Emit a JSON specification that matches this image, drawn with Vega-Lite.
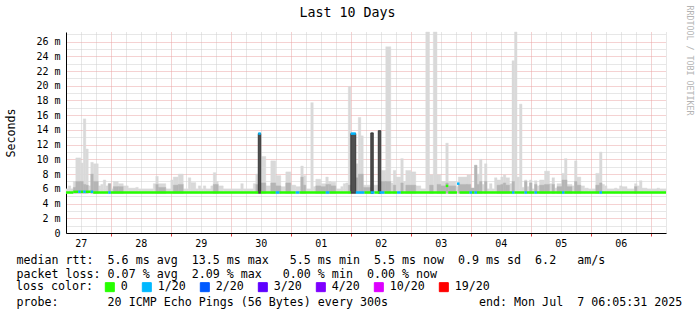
{
"$schema": "https://vega.github.io/schema/vega-lite/v6.json",
"width": 600,
"height": 201,
"autosize": {"type": "none"},
"padding": {"left": 66, "top": 32, "right": 31, "bottom": 82},
"background": "#ffffff",
"config": {"view": {"stroke": null}},
"title": {"text": "Last 10 Days", "font": "DejaVu Sans Mono", "fontSize": 13.3, "fontWeight": "normal", "color": "#000000", "anchor": "middle", "frame": "group", "dx": -18.5, "dy": 20, "offset": 6},
"datasets": {
"smoke": [
{"a":"2025-06-27T06:05:31","b":"2025-06-27T07:00","lo":5.4,"hi":6.0},
{"a":"2025-06-27T07:00","b":"2025-06-27T08:00","lo":5.4,"hi":6.4},
{"a":"2025-06-27T08:00","b":"2025-06-27T09:00","lo":5.4,"hi":6.0},
{"a":"2025-06-27T09:00","b":"2025-06-27T10:00","lo":5.4,"hi":7.0,"q":6.2},
{"a":"2025-06-27T10:00","b":"2025-06-27T12:00","lo":5.4,"hi":10.2,"q":7.0},
{"a":"2025-06-27T12:00","b":"2025-06-27T13:00","lo":5.4,"hi":9.5,"q":7.0},
{"a":"2025-06-27T13:00","b":"2025-06-27T14:00","lo":5.4,"hi":15.5,"q":6.6},
{"a":"2025-06-27T14:00","b":"2025-06-27T15:00","lo":5.4,"hi":11.4,"q":6.5},
{"a":"2025-06-27T15:00","b":"2025-06-27T16:00","lo":5.4,"hi":6.4},
{"a":"2025-06-27T16:00","b":"2025-06-27T17:00","lo":5.4,"hi":9.6,"q":8.0},
{"a":"2025-06-27T17:00","b":"2025-06-27T19:00","lo":5.4,"hi":9.4,"q":7.0},
{"a":"2025-06-27T19:00","b":"2025-06-27T20:00","lo":5.4,"hi":6.4},
{"a":"2025-06-27T20:00","b":"2025-06-27T21:00","lo":5.4,"hi":6.6},
{"a":"2025-06-27T21:00","b":"2025-06-27T22:00","lo":5.4,"hi":7.2},
{"a":"2025-06-27T22:00","b":"2025-06-27T23:00","lo":5.4,"hi":6.4},
{"a":"2025-06-27T23:00","b":"2025-06-28T00:00","lo":5.4,"hi":6.7,"q":6.7},
{"a":"2025-06-28T00:00","b":"2025-06-28T01:00","lo":5.4,"hi":6.0},
{"a":"2025-06-28T01:00","b":"2025-06-28T03:00","lo":5.4,"hi":7.0,"q":6.3},
{"a":"2025-06-28T03:00","b":"2025-06-28T05:00","lo":5.4,"hi":6.7,"q":6.3},
{"a":"2025-06-28T05:00","b":"2025-06-28T07:00","lo":5.4,"hi":6.4},
{"a":"2025-06-28T07:00","b":"2025-06-28T10:00","lo":5.4,"hi":6.1},
{"a":"2025-06-28T10:00","b":"2025-06-28T11:00","lo":5.4,"hi":6.2},
{"a":"2025-06-28T11:00","b":"2025-06-28T17:00","lo":5.4,"hi":6.0},
{"a":"2025-06-28T17:00","b":"2025-06-28T18:00","lo":5.4,"hi":6.7},
{"a":"2025-06-28T18:00","b":"2025-06-28T19:00","lo":5.4,"hi":7.7,"q":6.6},
{"a":"2025-06-28T19:00","b":"2025-06-28T22:00","lo":5.4,"hi":6.7,"q":6.2},
{"a":"2025-06-28T22:00","b":"2025-06-29T00:00","lo":5.4,"hi":6.0},
{"a":"2025-06-29T00:00","b":"2025-06-29T01:00","lo":5.4,"hi":7.2},
{"a":"2025-06-29T01:00","b":"2025-06-29T03:00","lo":5.4,"hi":7.6,"q":6.5},
{"a":"2025-06-29T03:00","b":"2025-06-29T05:00","lo":5.4,"hi":8.0,"q":6.6},
{"a":"2025-06-29T05:00","b":"2025-06-29T07:00","lo":5.4,"hi":6.0},
{"a":"2025-06-29T07:00","b":"2025-06-29T08:00","lo":5.4,"hi":7.5},
{"a":"2025-06-29T08:00","b":"2025-06-29T10:00","lo":5.4,"hi":6.85},
{"a":"2025-06-29T10:00","b":"2025-06-29T11:00","lo":5.4,"hi":6.0},
{"a":"2025-06-29T11:00","b":"2025-06-29T12:00","lo":5.4,"hi":6.4},
{"a":"2025-06-29T12:00","b":"2025-06-29T13:00","lo":5.4,"hi":6.0},
{"a":"2025-06-29T13:00","b":"2025-06-29T14:00","lo":5.4,"hi":6.4},
{"a":"2025-06-29T14:00","b":"2025-06-29T16:00","lo":5.4,"hi":6.0},
{"a":"2025-06-29T16:00","b":"2025-06-29T17:00","lo":5.4,"hi":6.4},
{"a":"2025-06-29T17:00","b":"2025-06-29T18:00","lo":5.4,"hi":8.2,"q":6.6},
{"a":"2025-06-29T18:00","b":"2025-06-29T19:00","lo":5.4,"hi":7.0,"q":6.6},
{"a":"2025-06-29T19:00","b":"2025-06-29T21:00","lo":5.4,"hi":6.4},
{"a":"2025-06-29T21:00","b":"2025-06-30T04:00","lo":5.4,"hi":6.0},
{"a":"2025-06-30T04:00","b":"2025-06-30T05:00","lo":5.4,"hi":6.7},
{"a":"2025-06-30T05:00","b":"2025-06-30T09:00","lo":5.4,"hi":6.0},
{"a":"2025-06-30T09:00","b":"2025-06-30T10:00","lo":5.4,"hi":6.7},
{"a":"2025-06-30T10:00","b":"2025-06-30T11:00","lo":5.4,"hi":8.0,"q":6.6},
{"a":"2025-06-30T11:00","b":"2025-06-30T12:00","lo":5.4,"hi":13.6,"d":13.5},
{"a":"2025-06-30T12:00","b":"2025-06-30T14:00","lo":5.4,"hi":10.4,"q":6.8},
{"a":"2025-06-30T14:00","b":"2025-06-30T16:00","lo":5.4,"hi":6.4},
{"a":"2025-06-30T16:00","b":"2025-06-30T18:00","lo":5.4,"hi":9.8,"q":6.8},
{"a":"2025-06-30T18:00","b":"2025-06-30T20:00","lo":5.4,"hi":7.8,"q":6.4},
{"a":"2025-06-30T20:00","b":"2025-06-30T22:00","lo":5.4,"hi":6.3},
{"a":"2025-06-30T22:00","b":"2025-07-01T00:00","lo":5.4,"hi":8.3,"q":6.8},
{"a":"2025-07-01T00:00","b":"2025-07-01T02:00","lo":5.4,"hi":6.5},
{"a":"2025-07-01T02:00","b":"2025-07-01T04:00","lo":5.4,"hi":6.3},
{"a":"2025-07-01T04:00","b":"2025-07-01T05:00","lo":5.4,"hi":9.1,"q":7.6},
{"a":"2025-07-01T05:00","b":"2025-07-01T06:00","lo":5.4,"hi":7.8,"q":6.5},
{"a":"2025-07-01T06:00","b":"2025-07-01T08:00","lo":5.4,"hi":6.0},
{"a":"2025-07-01T08:00","b":"2025-07-01T09:00","lo":5.4,"hi":17.7},
{"a":"2025-07-01T09:00","b":"2025-07-01T10:00","lo":5.4,"hi":6.3},
{"a":"2025-07-01T10:00","b":"2025-07-01T12:00","lo":5.4,"hi":7.3,"q":6.4},
{"a":"2025-07-01T12:00","b":"2025-07-01T14:00","lo":5.4,"hi":6.7,"q":6.3},
{"a":"2025-07-01T14:00","b":"2025-07-01T15:00","lo":5.4,"hi":7.6,"q":6.6},
{"a":"2025-07-01T15:00","b":"2025-07-01T16:00","lo":5.4,"hi":7.0,"q":6.6},
{"a":"2025-07-01T16:00","b":"2025-07-01T18:00","lo":5.4,"hi":6.9,"q":6.4},
{"a":"2025-07-01T18:00","b":"2025-07-01T20:00","lo":5.4,"hi":6.0},
{"a":"2025-07-01T20:00","b":"2025-07-01T21:00","lo":5.4,"hi":6.3},
{"a":"2025-07-01T21:00","b":"2025-07-01T22:00","lo":5.4,"hi":6.7},
{"a":"2025-07-01T22:00","b":"2025-07-01T23:00","lo":5.4,"hi":6.8},
{"a":"2025-07-01T23:00","b":"2025-07-02T00:00","lo":5.4,"hi":19.9,"q":6.5},
{"a":"2025-07-02T00:00","b":"2025-07-02T02:00","lo":5.4,"hi":13.6,"d":13.5},
{"a":"2025-07-02T02:00","b":"2025-07-02T03:00","lo":5.4,"hi":9.4,"q":7.5},
{"a":"2025-07-02T03:00","b":"2025-07-02T04:00","lo":5.4,"hi":15.7,"q":8.0},
{"a":"2025-07-02T04:00","b":"2025-07-02T05:00","lo":5.4,"hi":13.2,"q":8.0},
{"a":"2025-07-02T05:00","b":"2025-07-02T08:00","lo":5.4,"hi":6.5,"q":6.2},
{"a":"2025-07-02T08:00","b":"2025-07-02T09:00","lo":5.4,"hi":13.6,"d":13.6},
{"a":"2025-07-02T09:00","b":"2025-07-02T11:00","lo":5.4,"hi":6.5},
{"a":"2025-07-02T11:00","b":"2025-07-02T12:00","lo":5.4,"hi":13.9,"d":13.9},
{"a":"2025-07-02T12:00","b":"2025-07-02T14:00","lo":5.4,"hi":8.5,"q":7.0},
{"a":"2025-07-02T14:00","b":"2025-07-02T16:00","lo":5.4,"hi":25.3,"q":7.0},
{"a":"2025-07-02T16:00","b":"2025-07-02T17:00","lo":5.4,"hi":6.8},
{"a":"2025-07-02T17:00","b":"2025-07-02T18:00","lo":5.4,"hi":8.5,"q":6.5},
{"a":"2025-07-02T18:00","b":"2025-07-02T20:00","lo":5.4,"hi":7.6},
{"a":"2025-07-02T20:00","b":"2025-07-02T21:00","lo":5.4,"hi":10.1,"q":6.8},
{"a":"2025-07-02T21:00","b":"2025-07-02T22:00","lo":5.4,"hi":7.0},
{"a":"2025-07-02T22:00","b":"2025-07-03T00:00","lo":5.4,"hi":8.5,"q":6.5},
{"a":"2025-07-03T00:00","b":"2025-07-03T02:00","lo":5.4,"hi":8.3,"q":6.5},
{"a":"2025-07-03T02:00","b":"2025-07-03T04:00","lo":5.4,"hi":6.4},
{"a":"2025-07-03T04:00","b":"2025-07-03T06:00","lo":5.4,"hi":6.0},
{"a":"2025-07-03T06:00","b":"2025-07-03T07:30","lo":5.4,"hi":27.3},
{"a":"2025-07-03T07:30","b":"2025-07-03T09:00","lo":5.4,"hi":7.9,"q":6.5},
{"a":"2025-07-03T09:00","b":"2025-07-03T10:30","lo":5.4,"hi":27.3},
{"a":"2025-07-03T10:30","b":"2025-07-03T12:00","lo":5.4,"hi":7.9,"q":6.6},
{"a":"2025-07-03T12:00","b":"2025-07-03T14:00","lo":5.4,"hi":7.0,"q":6.4},
{"a":"2025-07-03T14:00","b":"2025-07-03T15:00","lo":5.4,"hi":12.2,"q":6.8},
{"a":"2025-07-03T15:00","b":"2025-07-03T18:00","lo":5.4,"hi":7.0,"q":6.4},
{"a":"2025-07-03T18:00","b":"2025-07-03T19:00","lo":5.4,"hi":6.3},
{"a":"2025-07-03T19:00","b":"2025-07-03T22:30","lo":5.4,"hi":7.6,"q":6.6},
{"a":"2025-07-03T22:30","b":"2025-07-04T00:00","lo":5.4,"hi":7.9,"q":6.6},
{"a":"2025-07-04T00:00","b":"2025-07-04T01:30","lo":5.4,"hi":6.1,"q":6.1},
{"a":"2025-07-04T01:30","b":"2025-07-04T02:30","lo":5.4,"hi":9.2,"q":9.2},
{"a":"2025-07-04T02:30","b":"2025-07-04T03:30","lo":5.4,"hi":8.0,"q":6.6},
{"a":"2025-07-04T03:30","b":"2025-07-04T04:30","lo":5.4,"hi":10.0,"q":7.0},
{"a":"2025-07-04T04:30","b":"2025-07-04T05:30","lo":5.4,"hi":6.6},
{"a":"2025-07-04T05:30","b":"2025-07-04T06:30","lo":5.4,"hi":9.4,"q":7.0},
{"a":"2025-07-04T06:30","b":"2025-07-04T07:30","lo":5.4,"hi":6.0},
{"a":"2025-07-04T07:30","b":"2025-07-04T08:30","lo":5.4,"hi":6.7},
{"a":"2025-07-04T08:30","b":"2025-07-04T09:30","lo":5.4,"hi":6.0},
{"a":"2025-07-04T09:30","b":"2025-07-04T10:30","lo":5.4,"hi":7.5},
{"a":"2025-07-04T10:30","b":"2025-07-04T12:00","lo":5.4,"hi":7.2,"q":6.5},
{"a":"2025-07-04T12:00","b":"2025-07-04T13:00","lo":5.4,"hi":7.6,"q":6.6},
{"a":"2025-07-04T13:00","b":"2025-07-04T14:00","lo":5.4,"hi":7.9,"q":6.8},
{"a":"2025-07-04T14:00","b":"2025-07-04T15:30","lo":5.4,"hi":7.5,"q":6.5},
{"a":"2025-07-04T15:30","b":"2025-07-04T16:30","lo":5.4,"hi":6.7},
{"a":"2025-07-04T16:30","b":"2025-07-04T17:30","lo":5.4,"hi":23.4,"q":7.0},
{"a":"2025-07-04T17:30","b":"2025-07-04T18:30","lo":5.4,"hi":27.3},
{"a":"2025-07-04T18:30","b":"2025-07-04T19:30","lo":5.4,"hi":7.6},
{"a":"2025-07-04T19:30","b":"2025-07-04T20:30","lo":5.4,"hi":17.5},
{"a":"2025-07-04T20:30","b":"2025-07-04T21:30","lo":5.4,"hi":6.2},
{"a":"2025-07-04T21:30","b":"2025-07-04T22:30","lo":5.4,"hi":7.2,"q":7.0},
{"a":"2025-07-04T22:30","b":"2025-07-04T23:30","lo":5.4,"hi":6.3},
{"a":"2025-07-04T23:30","b":"2025-07-05T00:30","lo":5.4,"hi":7.2,"q":6.8},
{"a":"2025-07-05T00:30","b":"2025-07-05T01:30","lo":5.4,"hi":6.0},
{"a":"2025-07-05T01:30","b":"2025-07-05T02:30","lo":5.4,"hi":7.1,"q":6.6},
{"a":"2025-07-05T02:30","b":"2025-07-05T03:30","lo":5.4,"hi":6.4},
{"a":"2025-07-05T03:30","b":"2025-07-05T05:30","lo":5.4,"hi":7.2,"q":6.5},
{"a":"2025-07-05T05:30","b":"2025-07-05T07:30","lo":5.4,"hi":8.4,"q":6.6},
{"a":"2025-07-05T07:30","b":"2025-07-05T08:30","lo":5.4,"hi":6.7},
{"a":"2025-07-05T08:30","b":"2025-07-05T09:30","lo":5.4,"hi":7.5,"q":6.6},
{"a":"2025-07-05T09:30","b":"2025-07-05T10:30","lo":5.4,"hi":6.1},
{"a":"2025-07-05T10:30","b":"2025-07-05T12:30","lo":5.4,"hi":6.7,"q":6.3},
{"a":"2025-07-05T12:30","b":"2025-07-05T13:30","lo":5.4,"hi":8.1,"q":7.2},
{"a":"2025-07-05T13:30","b":"2025-07-05T14:30","lo":5.4,"hi":10.1,"q":7.2},
{"a":"2025-07-05T14:30","b":"2025-07-05T16:30","lo":5.4,"hi":6.6,"q":6.3},
{"a":"2025-07-05T16:30","b":"2025-07-05T17:30","lo":5.4,"hi":6.4},
{"a":"2025-07-05T17:30","b":"2025-07-05T18:30","lo":5.4,"hi":9.8,"q":7.0},
{"a":"2025-07-05T18:30","b":"2025-07-05T20:00","lo":5.4,"hi":7.6,"q":6.5},
{"a":"2025-07-05T20:00","b":"2025-07-05T21:30","lo":5.4,"hi":6.4},
{"a":"2025-07-05T21:30","b":"2025-07-05T23:00","lo":5.4,"hi":6.1},
{"a":"2025-07-05T23:00","b":"2025-07-06T02:00","lo":5.4,"hi":6.0},
{"a":"2025-07-06T02:00","b":"2025-07-06T03:30","lo":5.4,"hi":8.1,"q":6.5},
{"a":"2025-07-06T03:30","b":"2025-07-06T04:30","lo":5.4,"hi":11.0,"q":6.8},
{"a":"2025-07-06T04:30","b":"2025-07-06T05:30","lo":5.4,"hi":6.6},
{"a":"2025-07-06T05:30","b":"2025-07-06T06:30","lo":5.4,"hi":6.4},
{"a":"2025-07-06T06:30","b":"2025-07-06T09:30","lo":5.4,"hi":6.0},
{"a":"2025-07-06T09:30","b":"2025-07-06T10:30","lo":5.4,"hi":6.1},
{"a":"2025-07-06T10:30","b":"2025-07-06T11:30","lo":5.4,"hi":6.0},
{"a":"2025-07-06T11:30","b":"2025-07-06T12:30","lo":5.4,"hi":6.4},
{"a":"2025-07-06T12:30","b":"2025-07-06T14:30","lo":5.4,"hi":6.3},
{"a":"2025-07-06T14:30","b":"2025-07-06T17:30","lo":5.4,"hi":6.0},
{"a":"2025-07-06T17:30","b":"2025-07-06T18:30","lo":5.4,"hi":6.7,"q":6.3},
{"a":"2025-07-06T18:30","b":"2025-07-06T19:30","lo":5.4,"hi":6.4},
{"a":"2025-07-06T19:30","b":"2025-07-06T20:30","lo":5.4,"hi":7.1},
{"a":"2025-07-06T20:30","b":"2025-07-06T22:30","lo":5.4,"hi":6.1},
{"a":"2025-07-06T22:30","b":"2025-07-07T02:30","lo":5.4,"hi":6.0},
{"a":"2025-07-07T02:30","b":"2025-07-07T03:30","lo":5.4,"hi":6.1},
{"a":"2025-07-07T03:30","b":"2025-07-07T06:05:31","lo":5.4,"hi":6.0}
],
"median": [
{"a":"2025-06-27T06:05:31","b":"2025-06-27T09:00","med":5.5,"loss":"0"},
{"a":"2025-06-27T09:00","b":"2025-06-27T11:00","med":5.6,"loss":"0"},
{"a":"2025-06-27T11:00","b":"2025-06-27T12:00","med":5.6,"loss":"1/20"},
{"a":"2025-06-27T12:00","b":"2025-06-27T13:00","med":5.6,"loss":"0"},
{"a":"2025-06-27T13:00","b":"2025-06-27T14:00","med":5.6,"loss":"1/20"},
{"a":"2025-06-27T14:00","b":"2025-06-27T16:00","med":5.6,"loss":"0"},
{"a":"2025-06-27T16:00","b":"2025-06-27T17:00","med":5.6,"loss":"1/20"},
{"a":"2025-06-27T17:00","b":"2025-06-27T23:00","med":5.5,"loss":"0"},
{"a":"2025-06-27T23:00","b":"2025-06-28T00:00","med":5.5,"loss":"1/20"},
{"a":"2025-06-28T00:00","b":"2025-06-30T11:00","med":5.5,"loss":"0"},
{"a":"2025-06-30T11:00","b":"2025-06-30T12:00","med":13.5,"loss":"1/20"},
{"a":"2025-06-30T12:00","b":"2025-06-30T18:00","med":5.5,"loss":"0"},
{"a":"2025-06-30T18:00","b":"2025-06-30T19:30","med":5.5,"loss":"1/20"},
{"a":"2025-06-30T19:30","b":"2025-07-01T02:00","med":5.5,"loss":"0"},
{"a":"2025-07-01T02:00","b":"2025-07-01T03:30","med":5.5,"loss":"1/20"},
{"a":"2025-07-01T03:30","b":"2025-07-01T14:00","med":5.5,"loss":"0"},
{"a":"2025-07-01T14:00","b":"2025-07-01T15:30","med":5.5,"loss":"1/20"},
{"a":"2025-07-01T15:30","b":"2025-07-02T00:00","med":5.5,"loss":"0"},
{"a":"2025-07-02T00:00","b":"2025-07-02T02:00","med":13.5,"loss":"1/20"},
{"a":"2025-07-02T02:00","b":"2025-07-02T05:30","med":5.5,"loss":"1/20"},
{"a":"2025-07-02T05:30","b":"2025-07-02T08:00","med":5.5,"loss":"0"},
{"a":"2025-07-02T08:00","b":"2025-07-02T09:30","med":5.5,"loss":"1/20"},
{"a":"2025-07-02T09:30","b":"2025-07-02T11:30","med":5.5,"loss":"0"},
{"a":"2025-07-02T11:30","b":"2025-07-02T13:30","med":5.5,"loss":"1/20"},
{"a":"2025-07-02T13:30","b":"2025-07-02T18:30","med":5.5,"loss":"0"},
{"a":"2025-07-02T18:30","b":"2025-07-02T20:00","med":5.5,"loss":"1/20"},
{"a":"2025-07-02T20:00","b":"2025-07-03T14:00","med":5.5,"loss":"0"},
{"a":"2025-07-03T14:00","b":"2025-07-03T15:00","med":6.4,"loss":"0"},
{"a":"2025-07-03T15:00","b":"2025-07-03T18:30","med":5.5,"loss":"0"},
{"a":"2025-07-03T18:30","b":"2025-07-03T19:30","med":6.7,"loss":"1/20"},
{"a":"2025-07-03T19:30","b":"2025-07-03T23:30","med":5.5,"loss":"0"},
{"a":"2025-07-03T23:30","b":"2025-07-04T00:30","med":5.5,"loss":"1/20"},
{"a":"2025-07-04T00:30","b":"2025-07-04T01:30","med":5.5,"loss":"0"},
{"a":"2025-07-04T01:30","b":"2025-07-04T02:30","med":5.5,"loss":"1/20"},
{"a":"2025-07-04T02:30","b":"2025-07-04T16:30","med":5.5,"loss":"0"},
{"a":"2025-07-04T16:30","b":"2025-07-04T17:30","med":5.5,"loss":"1/20"},
{"a":"2025-07-04T17:30","b":"2025-07-04T21:30","med":5.5,"loss":"0"},
{"a":"2025-07-04T21:30","b":"2025-07-04T22:30","med":5.5,"loss":"1/20"},
{"a":"2025-07-04T22:30","b":"2025-07-05T01:30","med":5.5,"loss":"0"},
{"a":"2025-07-05T01:30","b":"2025-07-05T02:30","med":5.5,"loss":"1/20"},
{"a":"2025-07-05T02:30","b":"2025-07-05T12:30","med":5.5,"loss":"0"},
{"a":"2025-07-05T12:30","b":"2025-07-05T13:30","med":5.5,"loss":"1/20"},
{"a":"2025-07-05T13:30","b":"2025-07-06T03:30","med":5.5,"loss":"0"},
{"a":"2025-07-06T03:30","b":"2025-07-06T04:30","med":5.5,"loss":"1/20"},
{"a":"2025-07-06T04:30","b":"2025-07-07T06:05:31","med":5.5,"loss":"0"}
]
},
"layer": [
{
"data": {"name": "smoke"},
"mark": {"type": "rect", "color": "#d9d9d9", "stroke": "#d9d9d9", "strokeWidth": 0.4},
"encoding": {
"x": {"field": "a", "type": "temporal",
"scale": {"type": "time", "nice": false, "domain": [{"year": 2025, "month": 6, "date": 27, "hours": 6, "minutes": 5, "seconds": 31}, {"year": 2025, "month": 7, "date": 7, "hours": 6, "minutes": 5, "seconds": 31}]},
"axis": {
"title": ["median rtt:\u00a0\u00a05.6 ms avg\u00a0\u00a013.5 ms max\u00a0\u00a0\u00a05.5 ms min\u00a0\u00a05.5 ms now\u00a0\u00a00.9 ms sd\u00a0\u00a06.2\u00a0\u00a0\u00a0am/s", "packet loss: 0.07 % avg\u00a0\u00a02.09 % max\u00a0\u00a0\u00a00.00 % min\u00a0\u00a00.00 % now", "\u200b", "probe:\u00a0\u00a0\u00a0\u00a0\u00a0\u00a0\u00a020 ICMP Echo Pings (56 Bytes) every 300s\u00a0\u00a0\u00a0\u00a0\u00a0\u00a0\u00a0\u00a0\u00a0\u00a0\u00a0\u00a0\u00a0end: Mon Jul\u00a0\u00a07 06:05:31 2025"],
"titleFont": "DejaVu Sans Mono", "titleFontSize": 11.65, "titleFontWeight": "normal", "titleColor": "#000000",
"titleAnchor": "start", "titleAlign": "left", "titleBaseline": "alphabetic", "titleAngle": 0,
"titleX": -50, "titleY": 30.5, "titleLineHeight": 13.9,
"tickCount": 40,
"labelExpr": "hours(datum.value) === 12 ? timeFormat(datum.value, '%d') : ''",
"labelFont": "DejaVu Sans Mono", "labelFontSize": 10, "labelColor": "#000000",
"labelOverlap": false, "labelFlush": false, "labelPadding": 2, "labelBaseline": "top",
"ticks": true, "tickSize": 3,
"tickColor": {"condition": {"test": "hours(datum.value) === 0", "value": "#e04040"}, "value": "rgba(0,0,0,0)"},
"grid": true, "gridDash": [1, 1], "gridWidth": 1,
"gridColor": {"condition": {"test": "hours(datum.value) === 0", "value": "#eba5a5"}, "value": "#cfcfcf"},
"domain": true, "domainColor": "#000000", "domainWidth": 1
}
},
"x2": {"field": "b"},
"y": {"field": "hi", "type": "quantitative",
"scale": {"domain": [0, 27.3], "nice": false, "zero": true},
"axis": {
"title": "Seconds", "titleFont": "DejaVu Sans Mono", "titleFontSize": 11.65, "titleFontWeight": "normal", "titleColor": "#000000",
"titleAngle": 270, "titleX": -55, "titleY": 100.5, "titleAlign": "center", "titleBaseline": "middle",
"values": [0,1,2,3,4,5,6,7,8,9,10,11,12,13,14,15,16,17,18,19,20,21,22,23,24,25,26,27],
"labelExpr": "datum.value % 2 !== 0 ? '' : (datum.value === 0 ? '0' : datum.value + ' m')",
"labelFont": "DejaVu Sans Mono", "labelFontSize": 10, "labelColor": "#000000",
"labelPadding": 6, "ticks": false, "labelOverlap": false, "labelFlush": false,
"grid": true, "gridDash": [1, 1], "gridWidth": 1,
"gridColor": {"condition": {"test": "datum.value % 2 === 0", "value": "#eba5a5"}, "value": "#cfcfcf"},
"domain": true, "domainColor": "#000000", "domainWidth": 1
}
},
"y2": {"field": "lo"}
}
},
{
"data": {"name": "smoke"},
"mark": {"type": "rect", "color": "#b5b5b5", "stroke": "#b5b5b5", "strokeWidth": 0.4},
"encoding": {
"x": {"field": "a", "type": "temporal"},
"x2": {"field": "b"},
"y": {"field": "q", "type": "quantitative", "axis": null},
"y2": {"field": "lo"}
}
},
{
"data": {"name": "smoke"},
"mark": {"type": "rect", "color": "#4f4f4f", "stroke": "#2a2a2a", "strokeWidth": 0.8},
"encoding": {
"x": {"field": "a", "type": "temporal"},
"x2": {"field": "b"},
"y": {"field": "d", "type": "quantitative", "axis": null},
"y2": {"field": "lo"}
}
},
{
"data": {"name": "median"},
"mark": {"type": "rule", "strokeWidth": 2.5, "strokeCap": "butt"},
"encoding": {
"x": {"field": "a", "type": "temporal"},
"x2": {"field": "b"},
"y": {"field": "med", "type": "quantitative",
"axis": {"orient": "right", "title": "RRDTOOL / TOBI OETIKER", "titleFont": "DejaVu Sans Mono", "titleFontSize": 8.3, "titleFontWeight": "normal", "titleColor": "#b4b4b4", "titleAngle": 90, "titleX": 22, "titleY": 28, "titleAlign": "center", "titleBaseline": "middle", "labels": false, "ticks": false, "domain": false, "grid": false}
},
"color": {"field": "loss", "type": "nominal",
"scale": {"domain": ["0", "1/20", "2/20", "3/20", "4/20", "10/20", "19/20"], "range": ["#26ff00", "#00b8ff", "#0059ff", "#5e00ff", "#7e00ff", "#dd00ff", "#ff0000"]},
"legend": {"orient": "none", "legendX": -50, "legendY": 249, "direction": "horizontal", "title": "loss color:", "titleOrient": "left",
"titleFont": "DejaVu Sans Mono", "titleFontSize": 11.65, "titleFontWeight": "normal", "titleColor": "#000000", "titlePadding": 10,
"labelFont": "DejaVu Sans Mono", "labelFontSize": 11.65, "labelColor": "#000000", "labelOffset": 5, "columnPadding": 12,
"symbolType": "square", "symbolSize": 81, "symbolStrokeColor": "#000000", "symbolStrokeWidth": 1, "symbolOpacity": 1, "padding": 0,
"encode": {"symbols": {"update": {"fill": {"scale": "color", "field": "value"}, "stroke": {"value": "#000000"}}}}
}
}
}
}
],
"resolve": {"axis": {"y": "independent"}}
}
